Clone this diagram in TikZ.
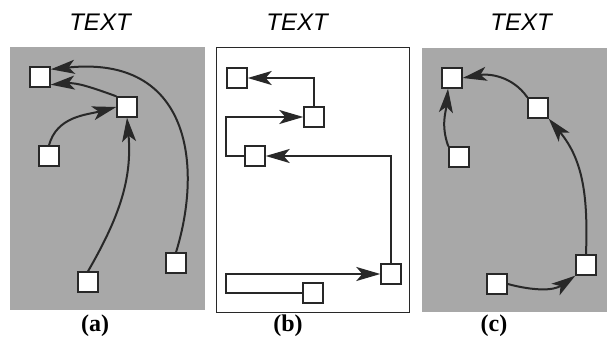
\documentclass[tikz,border=0pt]{standalone}
\usepackage{fontspec}
\setmainfont{Liberation Serif}
\setsansfont{Liberation Sans}
\usepackage{tikz}
\usetikzlibrary{arrows.meta}

\definecolor{bggray}{RGB}{168,168,168}
\definecolor{ink}{RGB}{40,40,40}

\tikzset{
    tipbig/.tip={Stealth[length=24pt, width=14pt, inset=6pt]}
}

\begin{document}
\begin{tikzpicture}[x=1pt, y=1pt,
    box/.style={draw=ink, line width=1.4pt, fill=white, minimum size=20pt, inner sep=0pt},
    link/.style={draw=ink, line width=2pt, arrows={-tipbig}},
    title/.style={font=\sffamily\itshape\fontsize{24}{24}\selectfont},
    tag/.style={font=\bfseries\fontsize{24}{24}\selectfont}]

    \useasboundingbox (0,0) rectangle (607,-339);

    % Panels
    \fill[bggray] (10,-47) rectangle (205,-310);
    \draw[ink, line width=1pt, fill=white] (216,-48) rectangle (409,-312);
    \fill[bggray] (422,-48) rectangle (607,-312);

    % Titles and tags
    \node[title] (ta) at (100,-22) {TEXT};
    \node[title] (tb) at (297,-22) {TEXT};
    \node[title] (tc) at (521,-22) {TEXT};
    \node[tag] (la) at (95,-326) {(a)};
    \node[tag] (lb) at (288,-326) {(b)};
    \node[tag] (lc) at (494,-326) {(c)};

    % Nodes (a)
    \node[box] (a1) at (40,-77)  {};
    \node[box] (a2) at (127,-107) {};
    \node[box] (a3) at (49,-156) {};
    \node[box] (a4) at (88,-282) {};
    \node[box] (a5) at (176,-263) {};

    \draw[link] (a5.north) .. controls (203,-165) and (190,-55) .. ([yshift=-3pt]a1.north east);
    \draw[link] (a2.north west) to[out=160, in=5] ([yshift=3pt]a1.south east);
    \draw[link] (a3.north) to[out=75, in=195] (a2.west);
    \draw[link] (a4.north) to[out=60, in=-85] (a2.south);

    % Nodes (b)
    \node[box] (b1) at (237,-78)  {};
    \node[box] (b2) at (314,-117) {};
    \node[box] (b3) at (255,-156) {};
    \node[box] (b4) at (391,-274) {};
    \node[box] (b5) at (313,-293) {};
    \coordinate (bl) at (226,0);

    \draw[link] (b2.north) |- (b1.east);
    \draw[link] (b3.west) -- (b3.west -| bl) |- (b2.west);
    \draw[link] (b4.north) |- (b3.east);
    \draw[link] (b5.west) -- (b5.west -| bl) |- (b4.west);

    % Nodes (c)
    \node[box] (c1) at (452,-78)  {};
    \node[box] (c2) at (538,-108) {};
    \node[box] (c3) at (459,-157) {};
    \node[box] (c4) at (586,-265) {};
    \node[box] (c5) at (497,-284) {};

    \draw[link] (c2.north west) to[out=125, in=10] (c1.east);
    \draw[link] (c3.north west) to[out=110, in=-95] ([xshift=-4pt]c1.south);
    \draw[link] (c4.north) to[out=88, in=-50] (c2.south east);
    \draw[link] (c5.east) to[out=-15, in=215] (c4.south west);

\end{tikzpicture}
\end{document}
